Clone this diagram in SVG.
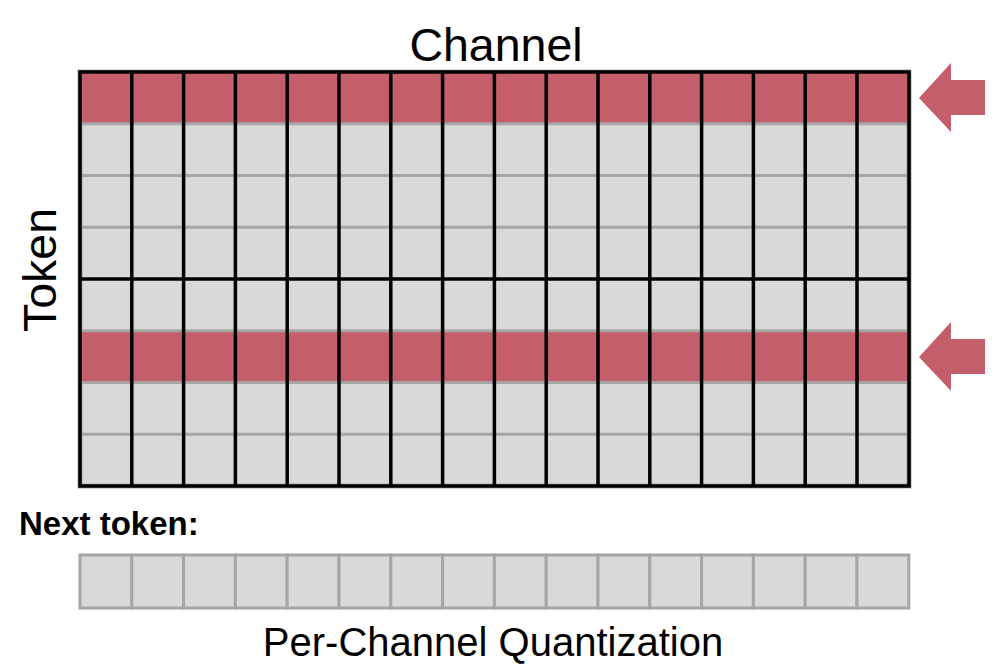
<svg xmlns="http://www.w3.org/2000/svg" width="995" height="664" viewBox="0 0 995 664">
<style>
.lbl{font-family:"Liberation Sans",Arial,sans-serif;fill:#000}
.cell{fill:#d9d9d9;stroke:#a6a6a6;stroke-width:3}
.hot{fill:#c45e6b}
.gl{stroke:#a6a6a6;stroke-width:3}
.bl{stroke:#000;stroke-width:3.5;fill:none}
.arr{fill:#c45e6b}
</style>
<rect width="995" height="664" fill="#fff"/>
<g id="title-channel"><text class="lbl" x="496" y="61" font-size="46.5" text-anchor="middle">Channel</text></g>
<g id="title-token"><text class="lbl" transform="translate(56,270) rotate(-90)" font-size="46.5" text-anchor="middle">Token</text></g>
<g id="grid">
<rect x="80" y="72" width="829" height="414" fill="#d9d9d9" stroke="#a6a6a6" stroke-width="5"/>
<rect class="hot" x="80" y="72" width="829" height="51.75"/>
<rect class="hot" x="80" y="330.75" width="829" height="51.75"/>
<g class="gl">
<line x1="80" y1="123.75" x2="909" y2="123.75"/>
<line x1="80" y1="175.5" x2="909" y2="175.5"/>
<line x1="80" y1="227.25" x2="909" y2="227.25"/>
<line x1="80" y1="330.75" x2="909" y2="330.75"/>
<line x1="80" y1="382.5" x2="909" y2="382.5"/>
<line x1="80" y1="434.25" x2="909" y2="434.25"/>
</g>
<g class="bl">
<rect x="80" y="72" width="829" height="414"/>
<line x1="80" y1="279" x2="909" y2="279"/>
<line x1="131.8" y1="72" x2="131.8" y2="486"/>
<line x1="183.6" y1="72" x2="183.6" y2="486"/>
<line x1="235.4" y1="72" x2="235.4" y2="486"/>
<line x1="287.2" y1="72" x2="287.2" y2="486"/>
<line x1="339" y1="72" x2="339" y2="486"/>
<line x1="390.8" y1="72" x2="390.8" y2="486"/>
<line x1="442.6" y1="72" x2="442.6" y2="486"/>
<line x1="494.4" y1="72" x2="494.4" y2="486"/>
<line x1="546.2" y1="72" x2="546.2" y2="486"/>
<line x1="598" y1="72" x2="598" y2="486"/>
<line x1="649.8" y1="72" x2="649.8" y2="486"/>
<line x1="701.6" y1="72" x2="701.6" y2="486"/>
<line x1="753.4" y1="72" x2="753.4" y2="486"/>
<line x1="805.2" y1="72" x2="805.2" y2="486"/>
<line x1="857" y1="72" x2="857" y2="486"/>
</g>
</g>
<g id="arrows">
<polygon class="arr" points="919,98 951,63 951,80 985,80 985,115 951,115 951,132"/>
<polygon class="arr" points="919,357 951,322 951,339 985,339 985,374 951,374 951,391"/>
</g>
<g id="next-label"><text class="lbl" x="19" y="535" font-size="33" font-weight="bold">Next token:</text></g>
<g id="next-token">
<rect class="cell" x="80" y="555" width="51.8" height="53"/>
<rect class="cell" x="131.8" y="555" width="51.8" height="53"/>
<rect class="cell" x="183.6" y="555" width="51.8" height="53"/>
<rect class="cell" x="235.4" y="555" width="51.8" height="53"/>
<rect class="cell" x="287.2" y="555" width="51.8" height="53"/>
<rect class="cell" x="339" y="555" width="51.8" height="53"/>
<rect class="cell" x="390.8" y="555" width="51.8" height="53"/>
<rect class="cell" x="442.6" y="555" width="51.8" height="53"/>
<rect class="cell" x="494.4" y="555" width="51.8" height="53"/>
<rect class="cell" x="546.2" y="555" width="51.8" height="53"/>
<rect class="cell" x="598" y="555" width="51.8" height="53"/>
<rect class="cell" x="649.8" y="555" width="51.8" height="53"/>
<rect class="cell" x="701.6" y="555" width="51.8" height="53"/>
<rect class="cell" x="753.4" y="555" width="51.8" height="53"/>
<rect class="cell" x="805.2" y="555" width="51.8" height="53"/>
<rect class="cell" x="857" y="555" width="51.8" height="53"/>
</g>
<g id="caption"><text class="lbl" x="493" y="656" font-size="40" text-anchor="middle">Per-Channel Quantization</text></g>
</svg>
